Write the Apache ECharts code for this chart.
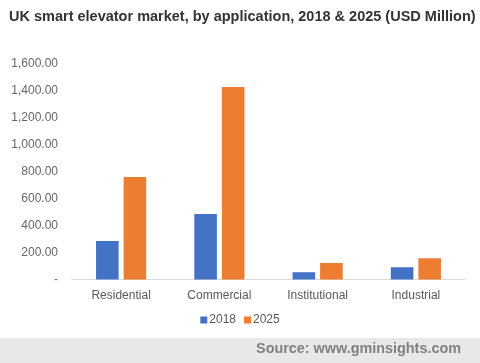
<!DOCTYPE html>
<html><head><meta charset="utf-8">
<script src="https://cdn.jsdelivr.net/npm/echarts@6/dist/echarts.min.js"></script>
<style>html,body{margin:0;padding:0;background:#fff}#c{width:480px;height:363px}</style>
</head><body><div id="c"></div>
<script>
const categories = ['Residential', 'Commercial', 'Institutional', 'Industrial'];
const values2018 = [286, 486, 54, 91];
const values2025 = [761, 1429, 123, 158];
const seriesNames = ['2018', '2025'];
const yTicks = [0, 200, 400, 600, 800, 1000, 1200, 1400, 1600];

const chart = echarts.init(document.getElementById('c'), null, {renderer: 'canvas'});
const font = 'Liberation Sans, Arial, sans-serif';
chart.setOption({
  animation: false,
  title: {
    text: 'UK smart elevator market, by application, 2018 & 2025 (USD Million)',
    left: 4, top: 4,
    textStyle: {fontFamily: font, fontSize: 14.5, fontWeight: 'bold', color: '#333333'}
  },
  legend: {
    data: seriesNames, bottom: 32, left: 'center',
    itemWidth: 7, itemHeight: 7, itemGap: 8, icon: 'rect',
    textStyle: {fontFamily: font, fontSize: 12, color: '#595959', padding: [0,0,0,-3]}
  },
  grid: {left: 72, right: 15, top: 64, bottom: 83.5},
  xAxis: {
    type: 'category', data: categories,
    axisLine: {lineStyle: {color: '#d9d9d9', width: 1}},
    axisTick: {show: false},
    axisLabel: {fontFamily: font, fontSize: 12, color: '#595959', margin: 10}
  },
  yAxis: {
    type: 'value', min: yTicks[0], max: yTicks[yTicks.length - 1], interval: 200,
    splitLine: {show: false}, axisLine: {show: false}, axisTick: {show: false},
    axisLabel: {
      fontFamily: font, fontSize: 12, color: '#666666', margin: 14,
      formatter: v => v === 0 ? '-' : v.toLocaleString('en-US', {minimumFractionDigits: 2, maximumFractionDigits: 2})
    }
  },
  series: [
    {name: seriesNames[0], type: 'bar', data: values2018, barWidth: '23%', barGap: '22%', itemStyle: {color: '#4472c4'}},
    {name: seriesNames[1], type: 'bar', data: values2025, barWidth: '23%', barGap: '22%', itemStyle: {color: '#ed7d31'}}
  ],
  graphic: [
    {type: 'rect', left: 0, top: 338, shape: {width: 480, height: 25}, style: {fill: '#e8e8e8'}, z: -1},
    {type: 'text', right: 19, top: 342, style: {text: 'Source: www.gminsights.com', font: 'bold 14.4px ' + font, fill: '#808080'}}
  ]
});
</script></body></html>
